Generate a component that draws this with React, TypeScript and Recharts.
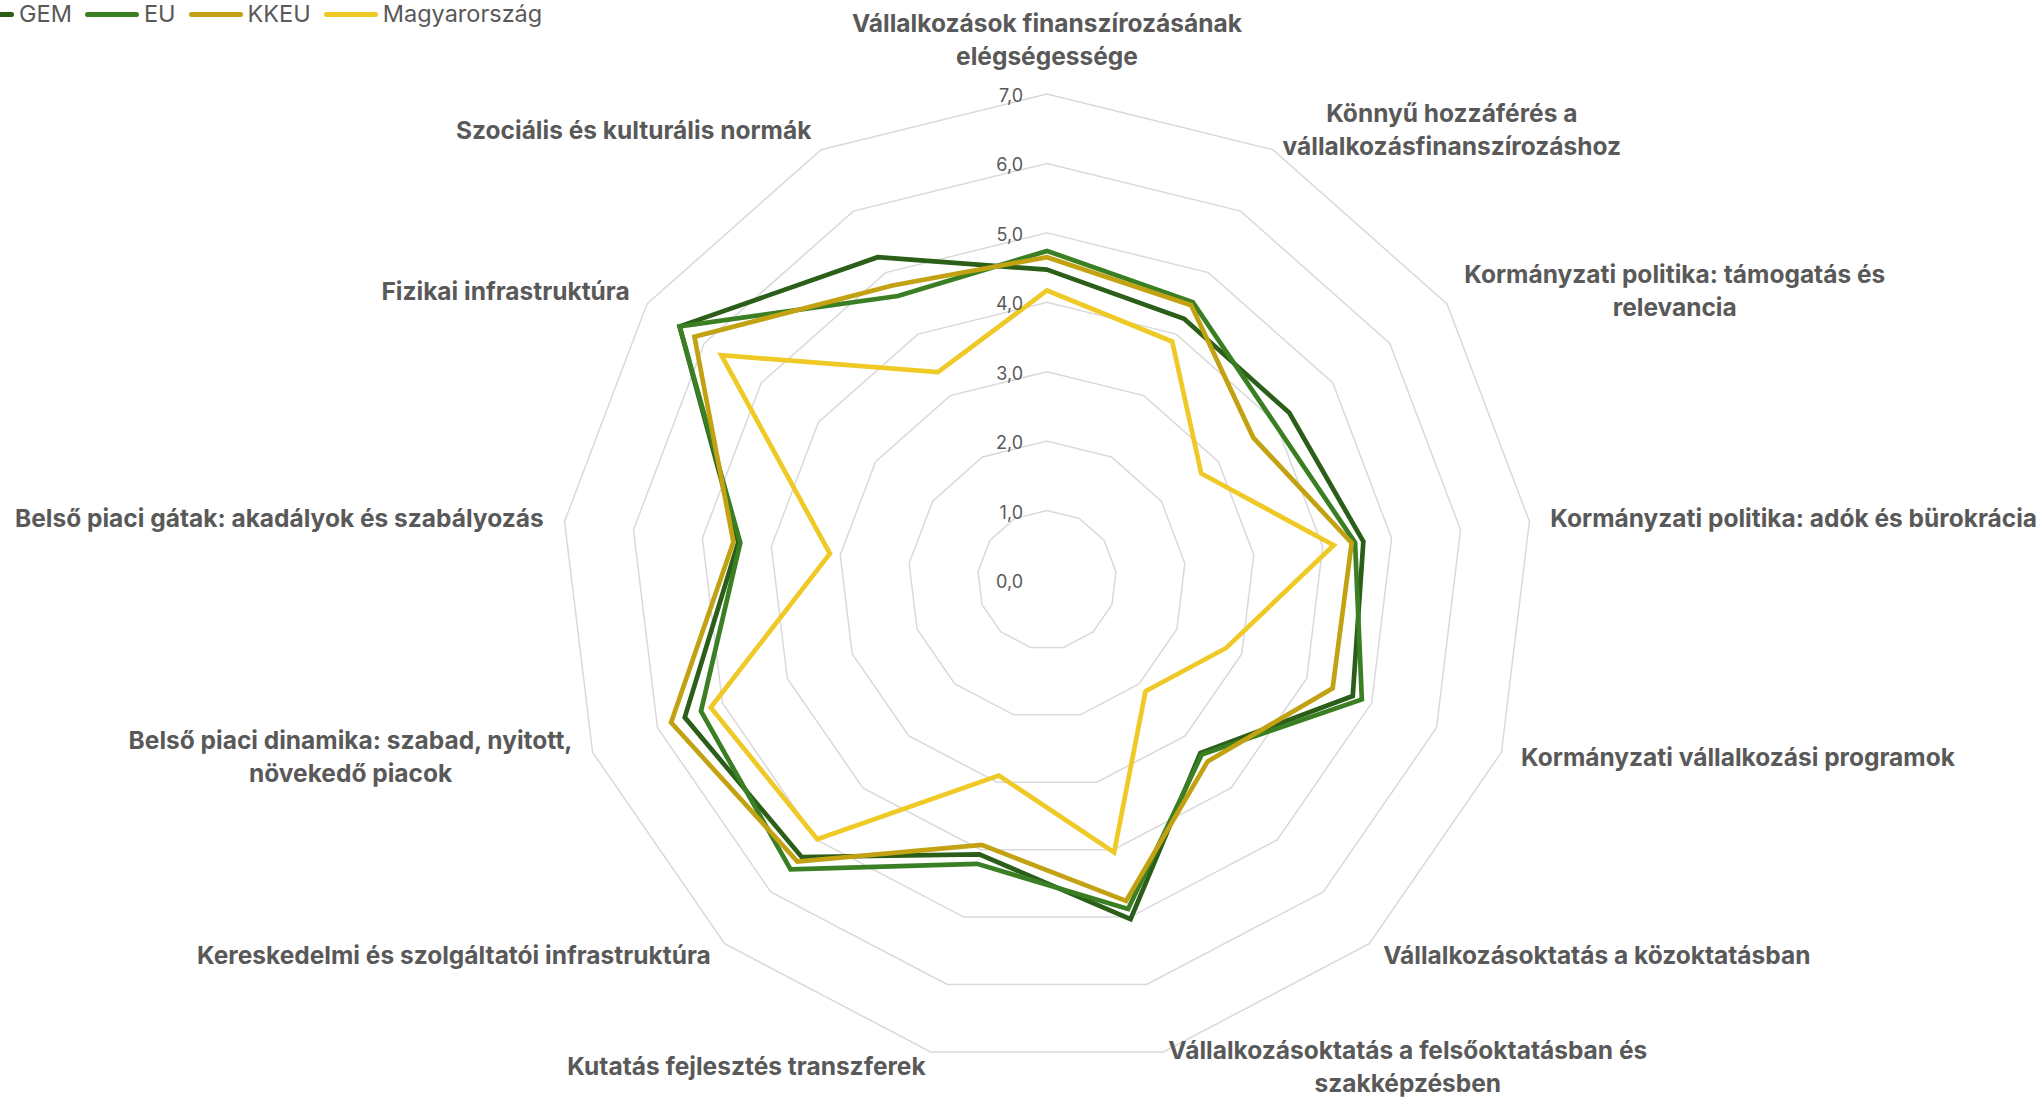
import React from "react";
import { PolarAngleAxis, PolarGrid, PolarRadiusAxis, Radar, RadarChart } from "recharts";

// 13 GEM NECI keretfeltétel, az óramutató járása szerint, felülről
const categories = [
  "Vállalkozások finanszírozásának\nelégségessége",
  "Könnyű hozzáférés a\nvállalkozásfinanszírozáshoz",
  "Kormányzati politika: támogatás és\nrelevancia",
  "Kormányzati politika: adók és bürokrácia",
  "Kormányzati vállalkozási programok",
  "Vállalkozásoktatás a közoktatásban",
  "Vállalkozásoktatás a felsőoktatásban és\nszakképzésben",
  "Kutatás fejlesztés transzferek",
  "Kereskedelmi és szolgáltatói infrastruktúra",
  "Belső piaci dinamika: szabad, nyitott,\nnövekedő piacok",
  "Belső piaci gátak: akadályok és szabályozás",
  "Fizikai infrastruktúra",
  "Szociális és kulturális normák",
];

const gem = [4.47, 4.25, 4.24, 4.59, 4.71, 3.33, 5.03, 4.07, 5.33, 5.58, 4.48, 6.43, 5.25];
const eu = [4.74, 4.52, 3.98, 4.47, 4.85, 3.36, 4.88, 4.21, 5.57, 5.33, 4.45, 6.43, 4.62];
const kkeu = [4.65, 4.47, 3.61, 4.42, 4.40, 3.49, 4.76, 3.93, 5.42, 5.79, 4.55, 6.17, 4.79];
const hungary = [4.17, 3.88, 2.70, 4.16, 2.76, 2.14, 4.04, 2.90, 4.99, 5.18, 3.15, 5.70, 3.38];

const radiusTicks = [0, 1, 2, 3, 4, 5, 6, 7];

const series = [
  { key: "GEM", color: "#2b5e18", values: gem },
  { key: "EU", color: "#3b7f24", values: eu },
  { key: "KKEU", color: "#c2a212", values: kkeu },
  { key: "Magyarország", color: "#efc926", values: hungary },
];

const data = categories.map((cat, i) => {
  const row: Record<string, string | number> = { cat };
  series.forEach((s) => (row[s.key] = s.values[i]));
  return row;
});

const W = 2044;
const H = 1097;
const CX = 1047;
const CY = 580;
const R = 486;
const LABEL_R = R + 21;
const FONT = "Inter, 'Open Sans', Arial, sans-serif";
const LABEL_SIZE = 24.5;
const LINE_H = 33;
const GREY = "#595959";

let ctx: CanvasRenderingContext2D | null = null;
function textWidth(s: string, font: string) {
  if (!ctx) ctx = document.createElement("canvas").getContext("2d");
  if (!ctx) return s.length * 13;
  ctx.font = font;
  return ctx.measureText(s).width;
}

function AngleTick(props: any) {
  const { payload, index } = props;
  const angle = payload?.coordinate ?? 90 - (index * 360) / categories.length;
  const rad = (angle * Math.PI) / 180;
  const dx = Math.cos(rad);
  const dy = -Math.sin(rad);
  const ax = CX + dx * LABEL_R;
  const ay = CY + dy * LABEL_R;
  const lines = String(payload.value).split("\n");
  const w = Math.max(...lines.map((l) => textWidth(l, `700 ${LABEL_SIZE}px ${FONT}`)));
  const h = lines.length * LINE_H;
  const left = Math.abs(dx) < 0.05 ? ax - w / 2 : dx > 0 ? ax : ax - w;
  const top = Math.abs(dx) < 0.05 && dy < 0 ? ay - h : ay - h / 2 - 5 * Math.max(dy, 0) - 1;
  return (
    <text textAnchor="middle" fill={GREY} fontSize={LABEL_SIZE} fontWeight={700} fontFamily={FONT}>
      {lines.map((l, k) => (
        <tspan key={k} x={left + w / 2} y={top + LINE_H * k + LINE_H / 2 + LABEL_SIZE * 0.36}>
          {l}
        </tspan>
      ))}
    </text>
  );
}

function RadiusTick({ x, y, payload }: any) {
  return (
    <text x={x - 24} y={y + 8} textAnchor="end" fill={GREY} fontSize={18} fontFamily={FONT}>
      {Number(payload.value).toFixed(1).replace(".", ",")}
    </text>
  );
}

function LegendRow() {
  return (
    <div style={{ position: "absolute", left: -40, top: 2, height: 24, display: "flex", alignItems: "center", fontFamily: FONT, fontSize: 23.5, color: GREY }}>
      {series.map((s) => (
        <div key={s.key} style={{ display: "flex", alignItems: "center", marginRight: 13 }}>
          <div style={{ width: 54, height: 5, borderRadius: 3, background: s.color }} />
          <span style={{ marginLeft: 5, lineHeight: "24px" }}>{s.key}</span>
        </div>
      ))}
    </div>
  );
}

export default function App() {
  return (
    <div style={{ position: "absolute", left: 0, top: 0, width: W, height: H, background: "#fff", overflow: "hidden" }}>
      <RadarChart width={W} height={H} data={data} cx={CX} cy={CY} outerRadius={R} margin={{ top: 0, right: 0, bottom: 0, left: 0 }}>
        <PolarGrid gridType="polygon" radialLines={false} stroke="#d9d9d9" strokeWidth={1.5} />
        <PolarAngleAxis dataKey="cat" tick={<AngleTick />} tickLine={false} axisLine={false} />
        <PolarRadiusAxis angle={90} domain={[0, 7]} ticks={radiusTicks} tickCount={8} axisLine={false} tick={<RadiusTick />} />
        {series.map((s) => (
          <Radar key={s.key} name={s.key} dataKey={s.key} stroke={s.color} strokeWidth={4.7} fill="none" fillOpacity={0} dot={false} isAnimationActive={false} />
        ))}
      </RadarChart>
      <LegendRow />
    </div>
  );
}
